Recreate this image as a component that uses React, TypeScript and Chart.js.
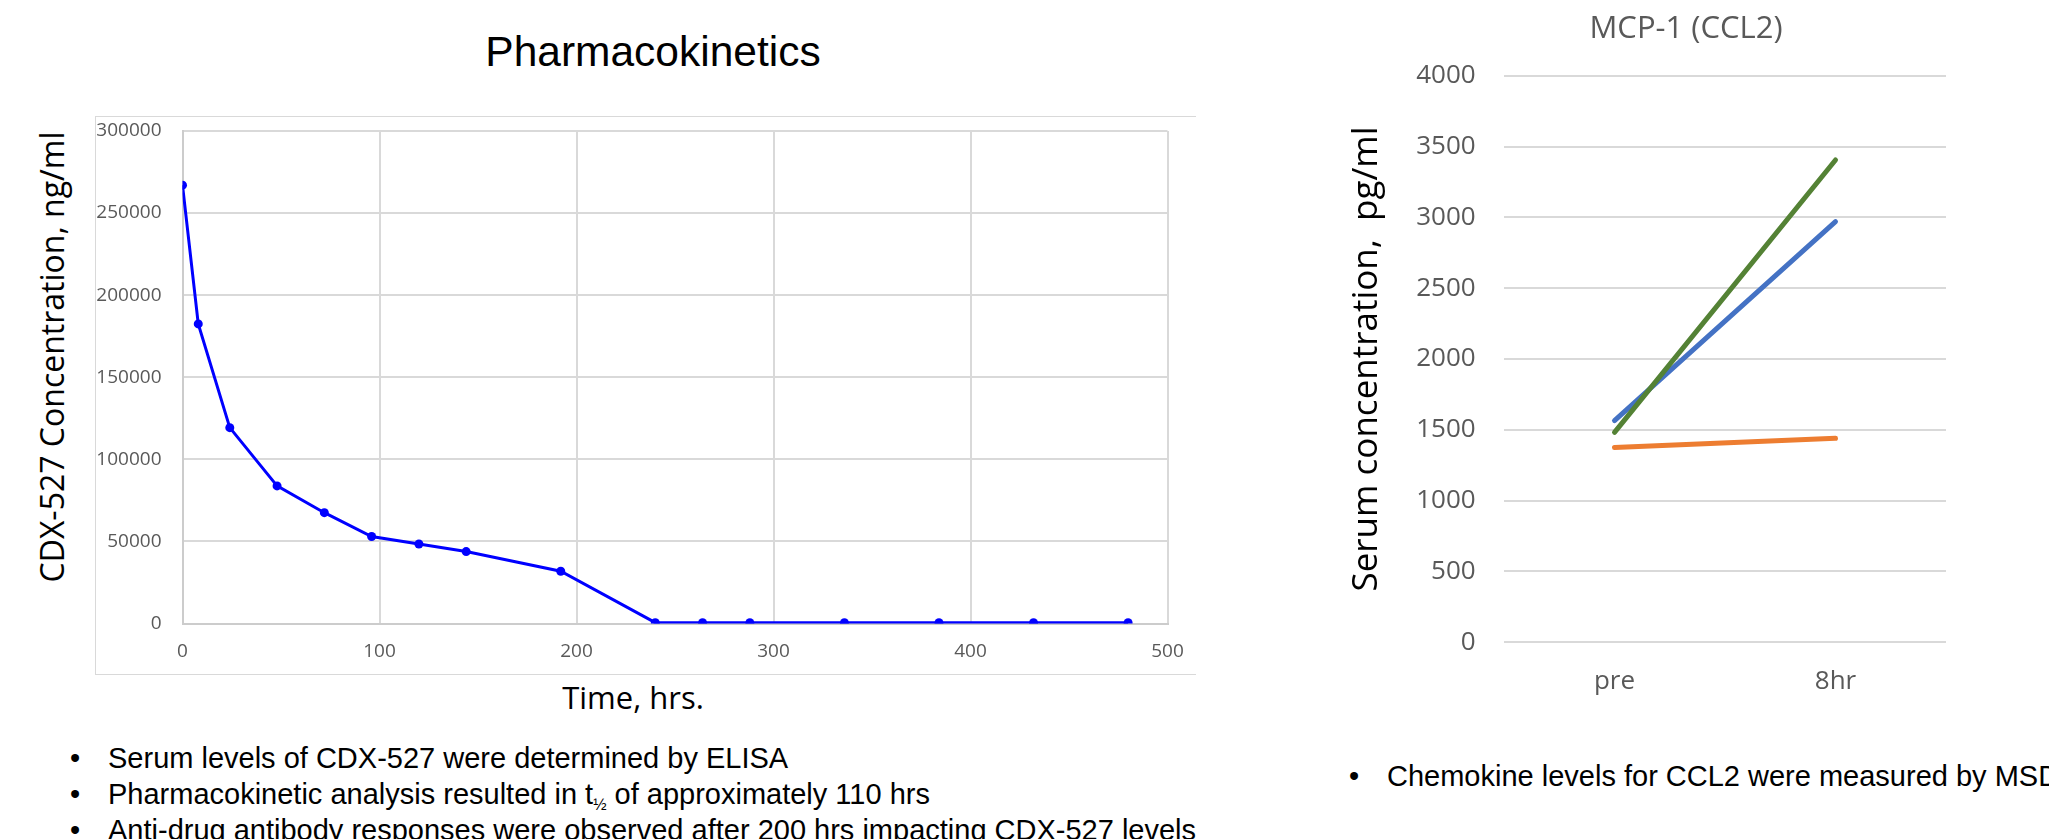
import React, { useEffect, useRef } from "react";
import { Chart, registerables } from "chart.js";

Chart.register(...registerables);

// ---- Data: Pharmacokinetics (left chart) ----
const pkTimes = [0, 8, 24, 48, 72, 96, 120, 144, 192, 240, 264, 288, 336, 384, 432, 480];
const pkConc = [267000, 182500, 119300, 83800, 67500, 53000, 48400, 43800, 31800, 500, 500, 500, 500, 500, 500, 500];
const pkXRange = [0, 500];
const pkXStep = 100;
const pkYRange = [0, 300000];
const pkYStep = 50000;

// ---- Data: MCP-1 (CCL2) (right chart) ----
const mcpCategories = ["pre", "8hr"];
const mcpBlue = [1565, 2970];
const mcpOrange = [1375, 1440];
const mcpGreen = [1482, 3405];
const mcpYRange = [0, 4000];
const mcpYStep = 500;

// ---- Slide text ----
const slideTitle = "Pharmacokinetics";
const pkYTitle = "CDX-527 Concentration,  ng/ml";
const pkXTitle = "Time, hrs.";
const mcpTitle = "MCP-1 (CCL2)";
const mcpYTitle = "Serum concentration,  pg/ml";
const bulletLine1 = "Serum levels of CDX-527 were determined by ELISA";
const bulletLine2a = "Pharmacokinetic analysis resulted in t";
const bulletLine2sub = "½";
const bulletLine2b = " of approximately 110 hrs";
const bulletLine3 = "Anti-drug antibody responses were observed after 200 hrs impacting CDX-527 levels";
const bulletRight = "Chemokine levels for CCL2 were measured by MSD";

const TICK_FONT = "'Open Sans', 'Noto Sans', sans-serif";
const ARIAL = "'Liberation Sans', Arial, sans-serif";

function PKChart() {
  const ref = useRef<HTMLCanvasElement>(null);
  useEffect(() => {
    const chart = new Chart(ref.current as HTMLCanvasElement, {
      type: "line",
      data: {
        datasets: [
          {
            data: pkTimes.map((t, i) => ({ x: t, y: pkConc[i] })),
            borderColor: "#0000ff",
            backgroundColor: "#0000ff",
            borderWidth: 3,
            pointRadius: 4.5,
            pointBorderWidth: 0,
            pointBackgroundColor: "#0000ff",
            tension: 0,
          },
        ],
      },
      options: {
        animation: false,
        responsive: false,
        maintainAspectRatio: false,
        layout: { padding: { top: 15, right: 28.5, left: 0, bottom: 0 } },
        plugins: { legend: { display: false }, tooltip: { enabled: false } },
        scales: {
          x: {
            type: "linear",
            min: pkXRange[0],
            max: pkXRange[1],
            ticks: {
              stepSize: pkXStep,
              padding: 17,
              color: "#595959",
              font: { family: TICK_FONT, size: 19 },
              callback: (v: any) => String(v),
            },
            grid: { color: "#d9d9d9", lineWidth: 2, drawTicks: false },
            border: { color: "#cccccc", width: 2 },
            afterFit: (s: any) => {
              s.height = 51.5;
              s.paddingLeft = 0;
              s.paddingRight = 0;
            },
          },
          y: {
            min: pkYRange[0],
            max: pkYRange[1],
            ticks: {
              stepSize: pkYStep,
              padding: 21,
              color: "#595959",
              font: { family: TICK_FONT, size: 19 },
              callback: (v: any) => String(v),
            },
            grid: { color: "#d9d9d9", lineWidth: 2, drawTicks: false },
            border: { color: "#cccccc", width: 2 },
            afterFit: (s: any) => {
              s.width = 87.5;
              s.paddingTop = 0;
              s.paddingBottom = 0;
            },
          },
        },
      },
    });
    return () => chart.destroy();
  }, []);
  return (
    <canvas
      ref={ref}
      width={1101}
      height={559}
      style={{ position: "absolute", left: 95, top: 116, width: 1101, height: 559 }}
    />
  );
}

function MCPChart() {
  const ref = useRef<HTMLCanvasElement>(null);
  useEffect(() => {
    const lineDs = (data: number[], color: string) => ({
      data,
      borderColor: color,
      backgroundColor: color,
      borderWidth: 5,
      pointRadius: 0,
      borderCapStyle: "round" as const,
      tension: 0,
    });
    const chart = new Chart(ref.current as HTMLCanvasElement, {
      type: "line",
      data: {
        labels: mcpCategories,
        datasets: [lineDs(mcpGreen, "#548235"), lineDs(mcpBlue, "#4472c4"), lineDs(mcpOrange, "#ed7d31")],
      },
      options: {
        animation: false,
        responsive: false,
        maintainAspectRatio: false,
        layout: { padding: 0 },
        plugins: {
          legend: { display: false },
          tooltip: { enabled: false },
          title: {
            display: true,
            text: mcpTitle,
            color: "#595959",
            font: { family: TICK_FONT, size: 31, weight: "normal" },
            padding: { top: 11, bottom: 27.5 },
          },
        },
        scales: {
          x: {
            type: "category",
            offset: true,
            ticks: {
              padding: 23.8,
              color: "#595959",
              font: { family: TICK_FONT, size: 26 },
            },
            grid: { display: false, drawTicks: false },
            border: { display: false },
            afterFit: (s: any) => {
              s.height = 77.7;
            },
          },
          y: {
            min: mcpYRange[0],
            max: mcpYRange[1],
            ticks: {
              stepSize: mcpYStep,
              padding: 28.3,
              color: "#595959",
              font: { family: TICK_FONT, size: 26 },
              callback: (v: any) => String(v),
            },
            grid: { color: "#d9d9d9", lineWidth: 2, drawTicks: false },
            border: { display: false },
            title: {
              display: true,
              text: mcpYTitle,
              color: "#000000",
              font: { family: TICK_FONT, size: 35 },
              padding: { top: 16, bottom: 0 },
            },
            afterFit: (s: any) => {
              s.width = 174;
              s.paddingTop = 0;
              s.paddingBottom = 0;
            },
          },
          yRight: {
            type: "linear",
            position: "right",
            display: true,
            grid: { display: false, drawTicks: false },
            border: { display: false },
            ticks: { display: false },
            afterFit: (s: any) => {
              s.width = 96;
              s.paddingTop = 0;
              s.paddingBottom = 0;
            },
          },
        },
      },
    });
    return () => chart.destroy();
  }, []);
  return (
    <canvas
      ref={ref}
      width={712}
      height={720}
      style={{ position: "absolute", left: 1330, top: 0, width: 712, height: 720 }}
    />
  );
}

const bulletText: React.CSSProperties = {
  position: "absolute",
  fontFamily: ARIAL,
  fontSize: 29,
  lineHeight: "36px",
  whiteSpace: "nowrap",
  color: "#000",
};

function Bullet({ top, left, children }: { top: number; left: number; children: React.ReactNode }) {
  return (
    <>
      <div style={{ ...bulletText, top, left: left - 38 }}>•</div>
      <div style={{ ...bulletText, top, left }}>{children}</div>
    </>
  );
}

export default function App() {
  return (
    <div
      style={{
        position: "fixed",
        left: 0,
        top: 0,
        width: 2049,
        height: 839,
        overflow: "hidden",
        background: "#ffffff",
      }}
    >
      <div
        style={{
          position: "absolute",
          left: 653,
          top: 31,
          transform: "translateX(-50%)",
          fontFamily: ARIAL,
          fontSize: 42.5,
          lineHeight: "42px",
          whiteSpace: "nowrap",
          color: "#000",
        }}
      >
        {slideTitle}
      </div>

      {/* left chart frame */}
      <div
        style={{
          position: "absolute",
          left: 95,
          top: 116,
          width: 1101,
          height: 559,
          boxSizing: "border-box",
          borderTop: "1px solid #d9d9d9",
          borderLeft: "1px solid #d9d9d9",
          borderBottom: "1px solid #d9d9d9",
        }}
      />
      <PKChart />
      <div
        style={{
          position: "absolute",
          left: 52,
          top: 357,
          transform: "translate(-50%, -50%) rotate(-90deg)",
          fontFamily: TICK_FONT,
          fontSize: 32,
          lineHeight: "32px",
          whiteSpace: "nowrap",
          color: "#000",
        }}
      >
        {pkYTitle}
      </div>
      <div
        style={{
          position: "absolute",
          left: 633,
          top: 682,
          transform: "translateX(-50%)",
          fontFamily: TICK_FONT,
          fontSize: 31,
          lineHeight: "31px",
          whiteSpace: "nowrap",
          color: "#000",
        }}
      >
        {pkXTitle}
      </div>

      <MCPChart />

      <Bullet top={740} left={108}>
        {bulletLine1}
      </Bullet>
      <Bullet top={776} left={108}>
        {bulletLine2a}
        <sub style={{ fontSize: "55%", verticalAlign: "-0.35em" }}>{bulletLine2sub}</sub>
        {bulletLine2b}
      </Bullet>
      <Bullet top={812} left={108}>
        {bulletLine3}
      </Bullet>
      <Bullet top={758} left={1387}>
        {bulletRight}
      </Bullet>
    </div>
  );
}
